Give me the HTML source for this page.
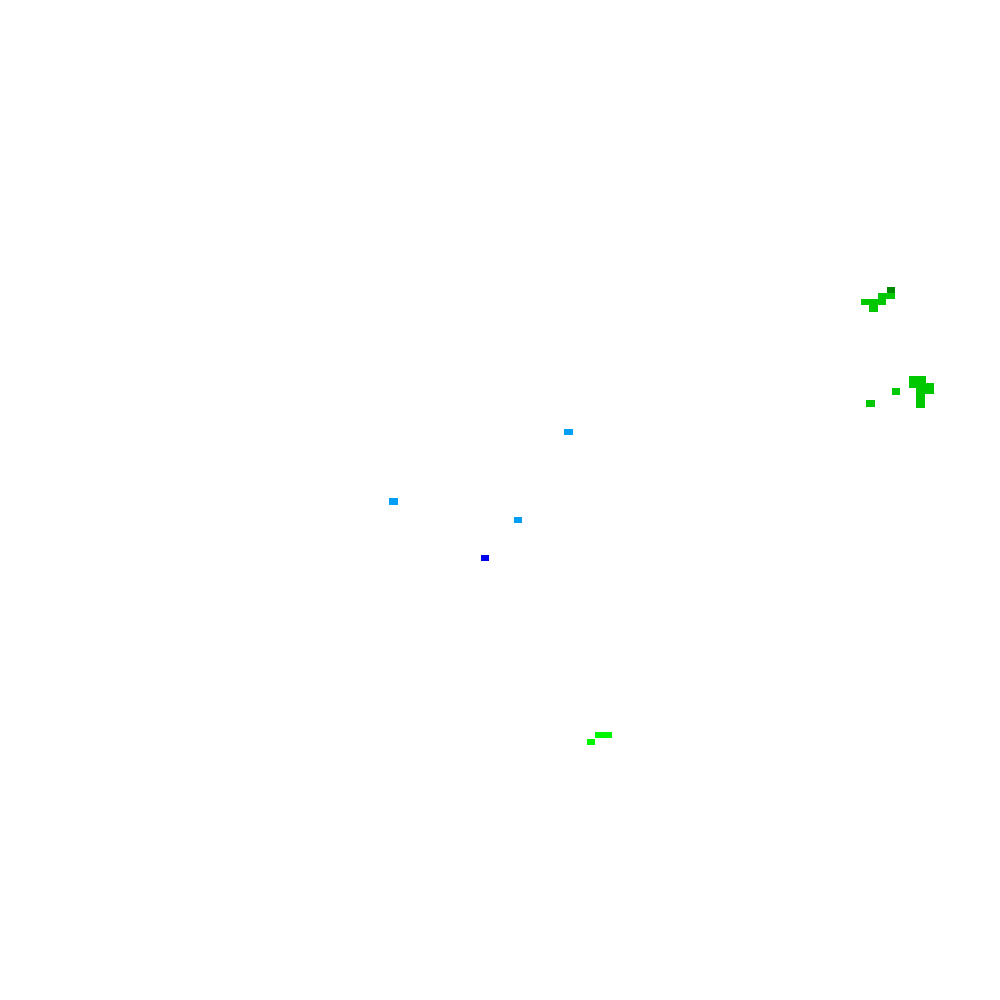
<!DOCTYPE html>
<html><head><style>
html,body{margin:0;padding:0;background:#fff;width:1000px;height:1000px;overflow:hidden;position:relative}
div{position:absolute}
.g{background:#00c800}
.lb{background:#009ef5}
</style></head><body>
<div style="left:887px;top:287px;width:8px;height:6px;background:#008a00"></div>
<div class="g" style="left:878px;top:293px;width:17px;height:6px"></div>
<div class="g" style="left:861px;top:299px;width:25px;height:6px"></div>
<div class="g" style="left:869px;top:305px;width:9px;height:7px"></div>

<div class="g" style="left:909px;top:376px;width:17px;height:12px"></div>
<div class="g" style="left:916px;top:383px;width:18px;height:11px"></div>
<div class="g" style="left:916px;top:394px;width:9px;height:14px"></div>
<div class="g" style="left:892px;top:388px;width:8px;height:7px"></div>
<div class="g" style="left:866px;top:400px;width:9px;height:7px"></div>

<div class="lb" style="left:564px;top:429px;width:9px;height:6px"></div>
<div class="lb" style="left:389px;top:498px;width:9px;height:7px"></div>
<div class="lb" style="left:514px;top:517px;width:8px;height:6px"></div>
<div style="left:481px;top:555px;width:8px;height:6px;background:#0000f0"></div>

<div style="left:595px;top:732px;width:17px;height:6px;background:#00f500"></div>
<div style="left:587px;top:739px;width:8px;height:6px;background:#00f500"></div>
</body></html>
